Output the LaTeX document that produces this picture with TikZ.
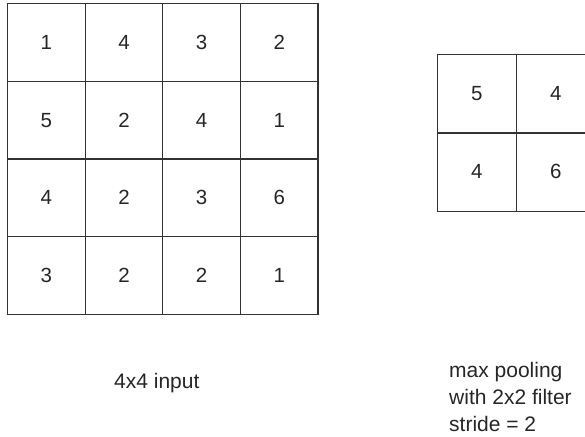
\documentclass[tikz,border=0pt]{standalone}
\usepackage{fontspec}
\setmainfont{Liberation Sans}
\begin{document}
\begin{tikzpicture}[x=1pt,y=-1pt,
  cellbox/.style={draw=black!80, line width=1.2pt, minimum width=#1, minimum height=#1, inner sep=0pt, anchor=north west, font=\fontsize{20.5}{24}\selectfont, text=black!85},
  lbl/.style={anchor=base west, inner sep=0pt, font=\fontsize{21}{25}\selectfont, text=black!85}]
\useasboundingbox (0,0) rectangle (585,436);
\clip (0,0) rectangle (585,436);
% input grid
\foreach \row [count=\r from 0] in {{1,4,3,2},{5,2,4,1},{4,2,3,6},{3,2,2,1}} {
  \foreach \v [count=\c from 0] in \row {
    \node[cellbox=77.6pt] (in\r\c) at ({7+77.6*\c},{3+77.7*\r}) {\v};
  }
}
% output grid
\foreach \row [count=\r from 0] in {{5,4},{4,6}} {
  \foreach \v [count=\c from 0] in \row {
    \node[cellbox=78.5pt] (out\r\c) at ({437+79*\c},{54+78*\r}) {\v};
  }
}
\node[lbl] (inlabel) at (114,388) {4x4 input};
\node[lbl] (pool1) at (449,377) {max pooling};
\node[lbl] (pool2) at (449,404) {with 2x2 filter};
\node[lbl] (pool3) at (449,431) {stride = 2};
\end{tikzpicture}
\end{document}
